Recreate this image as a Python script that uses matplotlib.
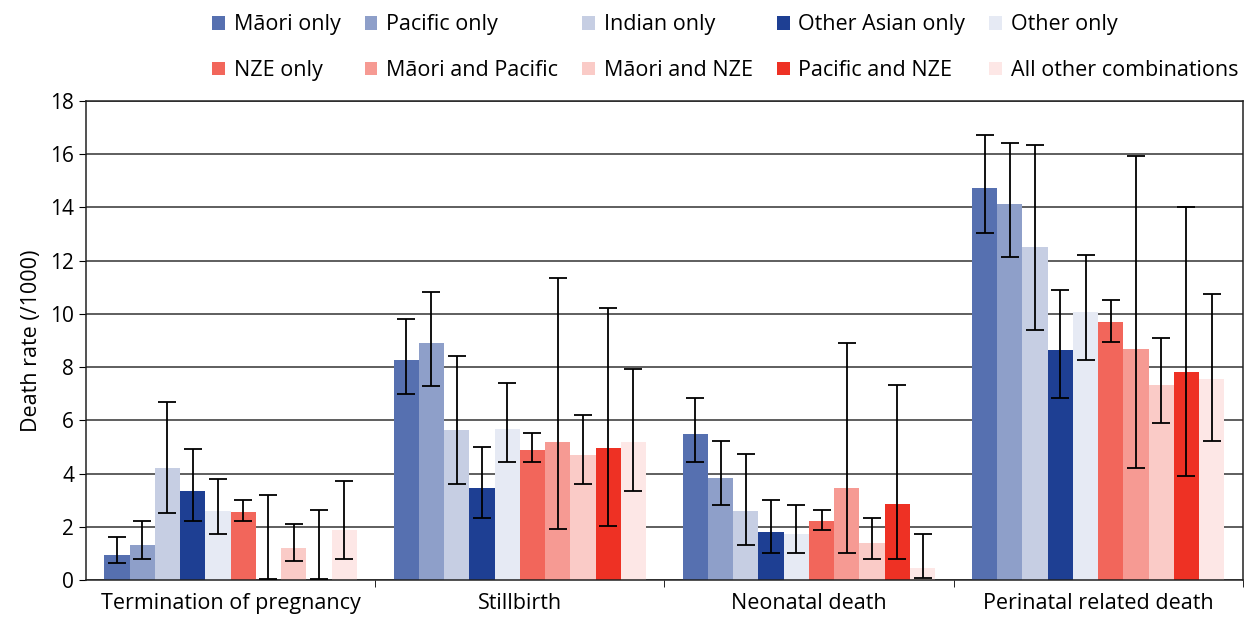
import matplotlib.pyplot as plt
import numpy as np

plt.rcParams['font.family'] = ['Open Sans', 'DejaVu Sans']

categories = ['Termination of pregnancy', 'Stillbirth', 'Neonatal death', 'Perinatal related death']

series_names = ['Māori only', 'Pacific only', 'Indian only', 'Other Asian only', 'Other only',
                'NZE only', 'Māori and Pacific', 'Māori and NZE', 'Pacific and NZE',
                'All other combinations']
colors = ['#5670B0', '#8E9FC9', '#C6CEE3', '#1E3F93', '#E6EAF4',
          '#F2665B', '#F69A93', '#FACBC7', '#EE3124', '#FDE7E6']

# rate, lower CI, upper CI per category
maori_only = [0.94, 8.27, 5.49, 14.74]
maori_only_lo = [0.63, 7.0, 4.42, 13.02]
maori_only_hi = [1.63, 9.81, 6.83, 16.73]

pacific_only = [1.32, 8.91, 3.83, 14.14]
pacific_only_lo = [0.80, 7.3, 2.82, 12.13]
pacific_only_hi = [2.22, 10.82, 5.23, 16.43]

indian_only = [4.2, 5.64, 2.59, 12.52]
indian_only_lo = [2.5, 3.61, 1.32, 9.41]
indian_only_hi = [6.7, 8.42, 4.74, 16.33]

other_asian_only = [3.35, 3.46, 1.8, 8.65]
other_asian_only_lo = [2.2, 2.32, 1.02, 6.83]
other_asian_only_hi = [4.91, 5.01, 3.02, 10.91]

other_only = [2.6, 5.68, 1.73, 10.08]
other_only_lo = [1.72, 4.42, 1.02, 8.25]
other_only_hi = [3.81, 7.42, 2.83, 12.22]

nze_only = [2.56, 4.89, 2.22, 9.7]
nze_only_lo = [2.2, 4.42, 1.89, 8.94]
nze_only_hi = [3.02, 5.53, 2.63, 10.51]

maori_pacific = [0.0, 5.19, 3.46, 8.68]
maori_pacific_lo = [0.03, 1.9, 1.02, 4.21]
maori_pacific_hi = [3.2, 11.34, 8.92, 15.94]

maori_nze = [1.2, 4.7, 1.39, 7.33]
maori_nze_lo = [0.71, 3.61, 0.8, 5.91]
maori_nze_hi = [2.1, 6.21, 2.33, 9.11]

pacific_nze = [0.0, 4.96, 2.86, 7.82]
pacific_nze_lo = [0.03, 2.02, 0.8, 3.91]
pacific_nze_hi = [2.63, 10.21, 7.33, 14.02]

all_other = [1.88, 5.19, 0.45, 7.56]
all_other_lo = [0.8, 3.33, 0.08, 5.23]
all_other_hi = [3.73, 7.93, 1.73, 10.74]

values = [maori_only, pacific_only, indian_only, other_asian_only, other_only,
          nze_only, maori_pacific, maori_nze, pacific_nze, all_other]
lows = [maori_only_lo, pacific_only_lo, indian_only_lo, other_asian_only_lo, other_only_lo,
        nze_only_lo, maori_pacific_lo, maori_nze_lo, pacific_nze_lo, all_other_lo]
highs = [maori_only_hi, pacific_only_hi, indian_only_hi, other_asian_only_hi, other_only_hi,
         nze_only_hi, maori_pacific_hi, maori_nze_hi, pacific_nze_hi, all_other_hi]

fig = plt.figure(figsize=(12.54, 6.19), dpi=100)
ax = fig.add_axes([0.0686, 0.063, 0.9224, 0.774])

x = np.arange(len(categories))
n = len(series_names)
width = 0.873 / n

handles = []
for i in range(n):
    pos = x + (i - (n - 1) / 2) * width
    bars = ax.bar(pos, values[i], width, color=colors[i], label=series_names[i], zorder=2)
    handles.append(bars)
    lo = np.array(lows[i])
    hi = np.array(highs[i])
    ax.errorbar(pos, (lo + hi) / 2, yerr=(hi - lo) / 2, fmt='none', ecolor='black',
                elinewidth=1.3, capsize=6.5, capthick=1.3, zorder=3)

ax.set_ylim(0, 18)
ax.set_xlim(-0.5, 3.5)
ax.set_yticks(range(0, 19, 2))
ax.yaxis.grid(True, color='#333333', linewidth=1.1)
ax.set_axisbelow(True)

ax.set_xticks(x)
ax.set_xticklabels(categories, fontsize=15.5)
ax.tick_params(axis='x', which='major', length=0, pad=9)
ax.set_xticks([0.5, 1.5, 2.5, 3.5], minor=True)
ax.tick_params(axis='x', which='minor', length=5, direction='out')
ax.tick_params(axis='y', labelsize=15, length=5, direction='out')
ax.set_ylabel('Death rate (/1000)', fontsize=15.5, labelpad=6)

for side in ['left', 'right', 'top', 'bottom']:
    ax.spines[side].set_color('#222222')
    ax.spines[side].set_linewidth(1.1)

order = [0, 5, 1, 6, 2, 7, 3, 8, 4, 9]
fig.legend([handles[k] for k in order], [series_names[k] for k in order],
           ncol=5, loc='upper right', bbox_to_anchor=(1.003, 1.008), frameon=False,
           fontsize=15.5, handlelength=0.6, handleheight=0.6, handletextpad=0.4,
           columnspacing=1.12, labelspacing=1.15)

fig.savefig('out.png', dpi=100)
